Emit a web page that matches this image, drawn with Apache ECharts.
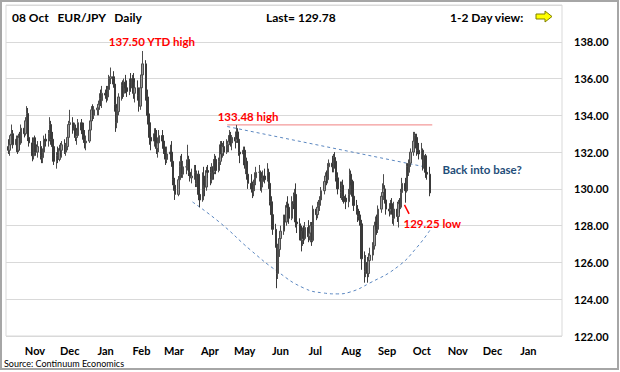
<!DOCTYPE html>
<html><head><meta charset="utf-8">
<script src="https://cdn.jsdelivr.net/npm/echarts@6/dist/echarts.min.js"></script>
<style>html,body{margin:0;padding:0;background:#fff}#c{width:620px;height:372px}</style>
</head><body><div id="c"></div>
<script>
// rows: [day, open, high, low, close]
const oct17 = [[9,132.3,132.7,131.9,132.1],[10,132.1,132.5,131.8,132.4],[11,132.4,133.0,132.2,132.9],[12,132.9,133.5,132.6,133.0],[13,133.0,133.2,132.2,132.4],[16,132.4,132.9,132.0,132.7],[17,132.7,132.9,131.9,132.1],[18,132.1,133.0,132.0,132.8],[19,132.8,133.1,132.1,132.5],[20,132.5,133.5,132.4,133.3],[23,133.3,133.7,132.8,133.0],[24,133.0,133.9,132.9,133.7],[25,133.7,134.5,133.4,134.1],[26,134.1,134.4,132.6,132.8],[27,132.8,133.3,132.3,132.5],[30,132.5,132.8,131.5,131.8],[31,131.8,132.8,131.6,132.5]];
const nov17 = [[1,132.5,132.9,132.0,132.4],[2,132.4,132.8,131.8,132.0],[3,132.0,132.6,131.7,132.3],[6,132.3,132.6,131.6,131.8],[7,131.8,132.3,131.4,131.7],[8,131.7,132.2,131.4,132.0],[9,132.0,132.9,131.8,132.7],[10,132.7,133.0,132.3,132.6],[13,132.6,133.2,132.3,133.0],[14,133.0,133.9,132.7,133.5],[15,133.5,133.7,132.4,132.7],[16,132.7,133.1,132.0,132.3],[17,132.3,132.6,131.3,131.5],[20,131.5,132.0,131.1,131.8],[21,131.8,132.3,131.4,131.6],[22,131.6,132.4,131.5,132.2],[23,132.2,132.5,131.8,132.1],[24,132.1,132.6,131.7,132.4],[27,132.4,132.7,131.9,132.0],[28,132.0,132.5,131.8,132.3],[29,132.3,133.0,132.1,132.8],[30,132.8,133.7,132.6,133.5]];
const dec17 = [[1,133.5,134.3,133.2,133.6],[4,133.6,133.9,133.0,133.2],[5,133.2,133.6,132.8,133.3],[6,133.3,133.5,132.6,132.8],[7,132.8,133.2,132.4,132.9],[8,132.9,133.8,132.8,133.6],[11,133.6,133.8,133.0,133.2],[12,133.2,133.5,132.7,133.0],[13,133.0,133.6,132.5,132.7],[14,132.7,133.2,132.2,132.5],[15,132.5,132.9,132.1,132.6],[18,132.6,133.4,132.5,133.2],[19,133.2,133.9,133.0,133.7],[20,133.7,134.5,133.5,134.3],[21,134.3,134.6,133.7,134.0],[22,134.0,134.5,133.8,134.3],[25,134.3,134.6,134.0,134.4],[26,134.4,134.8,134.0,134.6],[27,134.6,135.2,134.3,134.9],[28,134.9,135.4,134.5,134.8],[29,134.8,135.6,134.4,135.2]];
const jan18 = [[1,135.2,135.4,134.9,135.1],[2,135.1,135.6,134.7,135.0],[3,135.0,135.6,134.8,135.4],[4,135.4,136.2,135.2,136.0],[5,136.0,136.6,135.7,136.1],[8,136.1,136.4,135.5,135.7],[9,135.7,135.9,134.2,134.6],[10,134.6,134.9,133.1,133.6],[11,133.6,134.4,133.3,134.2],[12,134.2,135.2,134.0,135.0],[15,135.0,135.8,134.8,135.6],[16,135.6,135.9,134.9,135.2],[17,135.2,136.0,135.0,135.8],[18,135.8,136.2,135.2,135.5],[19,135.5,135.9,135.0,135.3],[22,135.3,136.0,135.1,135.8],[23,135.8,136.3,135.3,135.5],[24,135.5,136.2,135.2,136.0],[25,136.0,136.3,134.9,135.2],[26,135.2,135.8,134.7,135.5],[29,135.5,135.9,134.8,135.1],[30,135.1,135.4,134.2,134.5],[31,134.5,135.7,134.3,135.5]];
const feb18 = [[1,135.5,136.5,135.3,136.2],[2,136.2,137.5,136.0,136.8],[5,136.8,137.0,134.8,135.0],[6,135.0,135.4,133.5,134.0],[7,134.0,134.6,133.3,133.6],[8,133.6,134.1,132.4,132.8],[9,132.8,133.4,132.1,132.6],[12,132.6,133.3,132.3,133.0],[13,133.0,133.3,132.3,132.6],[14,132.6,133.2,131.9,132.2],[15,132.2,132.8,131.7,132.5],[16,132.5,133.2,132.0,132.9],[19,132.9,133.2,132.3,132.6],[20,132.6,132.9,131.9,132.2],[21,132.2,132.6,131.6,132.0],[22,132.0,132.3,131.3,131.6],[23,131.6,132.3,131.4,131.9],[26,131.9,132.4,131.5,132.0],[27,132.0,132.6,131.2,131.5],[28,131.5,131.8,130.2,130.5]];
const mar18 = [[1,130.5,130.9,129.9,130.2],[2,130.2,130.6,129.4,129.7],[5,129.7,130.7,129.6,130.5],[6,130.5,131.5,130.3,131.2],[7,131.2,131.8,130.9,131.5],[8,131.5,131.9,130.6,130.8],[9,130.8,131.5,130.6,131.2],[12,131.2,131.6,130.8,131.2],[13,131.2,132.4,131.0,131.6],[14,131.6,131.8,130.7,130.9],[15,130.9,131.3,130.4,130.6],[16,130.6,131.1,130.3,130.7],[19,130.7,131.3,130.5,130.9],[20,130.9,131.3,130.1,130.3],[21,130.3,131.0,130.1,130.8],[22,130.8,131.0,129.4,129.7],[23,129.7,130.0,129.0,129.4],[26,129.4,130.9,129.3,130.7],[27,130.7,131.2,130.2,130.4],[28,130.4,130.6,129.6,130.1],[29,130.1,131.2,129.9,131.0],[30,131.0,131.3,130.6,130.9]];
const apr18 = [[2,130.9,131.2,130.2,130.5],[3,130.5,131.4,130.3,131.2],[4,131.2,131.6,130.5,130.9],[5,130.9,131.9,130.8,131.6],[6,131.6,131.8,130.8,131.0],[9,131.0,131.7,130.9,131.5],[10,131.5,132.6,131.3,132.4],[11,132.4,132.6,131.6,131.9],[12,131.9,132.5,131.7,132.3],[13,132.3,132.6,131.8,132.0],[16,132.0,132.7,131.9,132.4],[17,132.4,132.9,132.0,132.6],[18,132.6,133.2,132.4,132.9],[19,132.9,133.1,132.3,132.5],[20,132.5,132.9,132.1,132.8],[23,132.8,133.1,132.2,132.6],[24,132.6,133.48,132.5,133.1],[25,133.1,133.3,132.5,132.7],[26,132.7,132.9,131.8,132.0],[27,132.0,132.4,131.4,131.9],[30,131.9,132.3,131.5,132.1]];
const may18 = [[1,132.1,132.3,131.1,131.3],[2,131.3,131.7,130.8,131.5],[3,131.5,131.7,130.5,130.8],[4,130.8,131.1,130.0,130.3],[7,130.3,130.8,129.8,130.0],[8,130.0,130.4,129.5,129.9],[9,129.9,130.5,129.6,130.3],[10,130.3,130.9,129.9,130.6],[11,130.6,131.2,130.2,130.9],[14,130.9,131.3,130.4,130.9],[15,130.9,131.0,129.9,130.1],[16,130.1,130.6,129.8,130.4],[17,130.4,131.0,130.1,130.7],[18,130.7,131.1,130.3,130.5],[21,130.5,131.4,130.4,130.9],[22,130.9,131.1,130.0,130.3],[23,130.3,130.5,129.1,129.3],[24,129.3,129.6,128.3,128.6],[25,128.6,129.0,127.5,127.8],[28,127.8,128.1,126.8,127.0],[29,127.0,127.2,124.6,125.4],[30,125.4,127.0,125.1,126.7],[31,126.7,127.6,126.3,127.3]];
const jun18 = [[1,127.3,128.0,126.9,127.7],[4,127.7,128.6,127.5,128.3],[5,128.3,128.6,127.8,128.2],[6,128.2,129.3,128.0,129.1],[7,129.1,129.6,128.6,129.0],[8,129.0,129.2,128.1,128.4],[11,128.4,129.6,128.3,129.3],[12,129.3,129.8,128.9,129.2],[13,129.2,130.0,128.8,129.7],[14,129.7,130.3,127.9,128.2],[15,128.2,128.7,127.6,128.1],[18,128.1,128.4,127.2,127.6],[19,127.6,128.0,126.6,127.2],[20,127.2,127.9,126.9,127.7],[21,127.7,128.0,127.0,127.3],[22,127.3,128.2,127.2,127.9],[25,127.9,128.3,127.1,127.4],[26,127.4,128.0,127.2,127.6],[27,127.6,128.2,127.1,128.0],[28,128.0,128.2,126.9,127.2],[29,127.2,129.1,127.1,128.9]];
const jul18 = [[2,128.9,129.0,128.3,128.6],[3,128.6,129.3,128.4,129.0],[4,129.0,129.4,128.7,129.1],[5,129.1,129.6,128.8,129.4],[6,129.4,130.1,129.2,129.9],[9,129.9,130.6,129.7,130.4],[10,130.4,130.9,130.0,130.7],[11,130.7,131.0,130.2,130.5],[12,130.5,131.4,130.3,131.2],[13,131.2,131.6,130.8,131.4],[16,131.4,131.8,130.9,131.2],[17,131.2,131.9,130.9,131.7],[18,131.7,132.0,131.1,131.5],[19,131.5,131.7,130.4,130.6],[20,130.6,130.9,129.7,130.0],[23,130.0,130.4,129.5,129.8],[24,129.8,130.4,129.4,130.2],[25,130.2,130.5,129.3,129.6],[26,129.6,130.0,129.2,129.5],[27,129.5,129.7,128.9,129.3],[30,129.3,130.0,129.0,129.7],[31,129.7,131.1,129.6,130.8]];
const aug18 = [[1,130.8,131.0,130.2,130.4],[2,130.4,130.5,129.4,129.6],[3,129.6,129.8,128.8,129.1],[6,129.1,129.4,128.6,128.9],[7,128.9,129.1,128.2,128.5],[8,128.5,128.8,128.0,128.3],[9,128.3,128.6,127.7,128.1],[10,128.1,128.3,125.6,126.2],[13,126.2,126.6,124.9,125.5],[14,125.5,126.4,125.2,126.0],[15,126.0,126.3,124.9,125.4],[16,125.4,126.5,125.2,126.1],[17,126.1,126.8,125.8,126.4],[20,126.4,127.1,126.1,126.9],[21,126.9,128.2,126.7,128.0],[22,128.0,128.5,127.6,128.2],[23,128.2,128.6,127.5,127.8],[24,127.8,129.1,127.6,128.9],[27,128.9,129.8,128.7,129.6],[28,129.6,130.3,129.1,129.8],[29,129.8,130.8,129.4,130.0],[30,130.0,130.2,129.2,129.4],[31,129.4,129.7,128.6,128.9]];
const sep18 = [[3,128.9,129.2,128.5,128.8],[4,128.8,129.4,128.6,129.2],[5,129.2,129.5,128.6,128.9],[6,128.9,129.1,128.1,128.4],[7,128.4,129.3,128.0,128.9],[10,128.9,129.3,128.2,128.5],[11,128.5,129.4,127.9,129.2],[12,129.2,129.5,128.7,129.0],[13,129.0,130.0,128.9,129.8],[14,129.8,130.6,129.5,130.3],[17,130.3,130.6,129.25,129.9],[18,129.9,131.4,129.8,131.2],[19,131.2,131.4,130.6,130.9],[20,130.9,131.6,130.7,131.4],[21,131.4,132.2,131.2,132.0],[24,132.0,133.1,131.8,132.6],[25,132.6,133.1,132.3,132.9],[26,132.9,133.0,132.2,132.8],[27,132.8,133.0,131.8,132.1],[28,132.1,132.5,131.6,131.9]];
const oct18 = [[1,131.9,132.5,131.6,132.1],[2,132.1,132.2,131.0,131.3],[3,131.3,132.0,131.1,131.8],[4,131.8,131.9,130.6,130.9],[5,130.9,131.2,130.5,130.8],[8,130.8,131.2,129.6,129.78]];

const monthBlocks = [[2017,9,oct17],[2017,10,nov17],[2017,11,dec17],[2018,0,jan18],[2018,1,feb18],[2018,2,mar18],[2018,3,apr18],[2018,4,may18],[2018,5,jun18],[2018,6,jul18],[2018,7,aug18],[2018,8,sep18],[2018,9,oct18]];

const xTickDates = ['2017-11-01','2017-12-01','2018-01-01','2018-02-01','2018-03-01','2018-04-01','2018-05-01','2018-06-01','2018-07-01','2018-08-01','2018-09-01','2018-10-01','2018-11-01','2018-12-01','2019-01-01'];
const xTickLabels = ['Nov','Dec','Jan','Feb','Mar','Apr','May','Jun','Jul','Aug','Sep','Oct','Nov','Dec','Jan'];
const yTickValues = [122,124,126,128,130,132,134,136,138];

// annotation lines
const resistance = [['2018-04-16',133.48],['2018-10-10',133.48]];
const trendline = [['2018-04-16',133.39],['2018-10-05',131.18]];
const baseCurve = [['2018-03-17',129.29],['2018-04-10',128.15],['2018-05-06',126.68],['2018-05-30',125.48],['2018-06-21',124.61],['2018-07-08',124.34],['2018-07-20',124.29],['2018-07-31',124.39],['2018-08-17',124.88],['2018-09-10',125.76],['2018-09-27',126.84],['2018-10-09',127.85]];
const lowPointer = [['2018-09-16',129.13],['2018-09-20',128.64]];
const notes = [
  {text:'137.50 YTD high', date:'2018-02-10', value:138.0, color:'#FF0000'},
  {text:'133.48 high', date:'2018-05-04', value:133.92, color:'#FF0000'},
  {text:'Back into base?', date:'2018-11-22', value:131.03, color:'#1F4E79'},
  {text:'129.25 low', date:'2018-10-10', value:128.1, color:'#FF0000'}
];

const toTs = s => { const p = s.split('-').map(Number); return Date.UTC(p[0], p[1]-1, p[2]); };
const bars = [];
monthBlocks.forEach(([y,m,rows]) => rows.forEach(r => bars.push([Date.UTC(y,m,r[0]), r[1], r[4], r[3], r[2]])));
const tickTs = xTickDates.map(toTs);
const FF = 'Lato, "Noto Sans", sans-serif';
const lineSeries = (data, color, type, width, smooth) => ({
  type:'line', data: data.map(d => [toTs(d[0]), d[1]]), symbol:'none', smooth: smooth || false, silent:true, z:1,
  lineStyle:{color, type, width}
});

const chart = echarts.init(document.getElementById('c'), null, {renderer:'svg'});
chart.setOption({
  animation:false,
  backgroundColor:'#fff',
  grid:{left:6, right:58, top:5, bottom:36, show:true, borderColor:'#d9d9d9', borderWidth:1},
  xAxis:{type:'value', min: toTs('2017-10-07'), max: toTs('2019-01-30'), scale:true,
    axisLine:{show:false}, axisTick:{show:false}, splitLine:{show:false},
    axisLabel:{customValues: tickTs, formatter: v => { const i = tickTs.indexOf(v); return i >= 0 ? xTickLabels[i] : ''; },
      fontFamily:FF, fontWeight:'bold', fontSize:11, color:'#000', margin:9, hideOverlap:false}},
  yAxis:{type:'value', position:'right', min:122, max:140, interval:2,
    axisLine:{show:false}, axisTick:{show:false},
    splitLine:{lineStyle:{color:'#d9d9d9', width:1}},
    axisLabel:{customValues: yTickValues, formatter: v => v.toFixed(2), fontFamily:FF, fontWeight:'bold', fontSize:11, color:'#000', margin:12}},
  series:[
    lineSeries(resistance, '#f08080', 'solid', 1),
    lineSeries(trendline, '#5b87c0', [3,3], 1),
    lineSeries(baseCurve, '#5b87c0', [3,3], 1, 0.5),
    lineSeries(lowPointer, '#ff0000', 'solid', 1.5),
    {type:'candlestick', data: bars, barWidth:2, z:3,
      itemStyle:{color:'#9a9a9a', borderColor:'#4d4d4d', color0:'#3a3a3a', borderColor0:'#3a3a3a', borderWidth:1}},
    {type:'scatter', symbolSize:0, silent:true, z:5, itemStyle:{opacity:1},
      data: notes.map(n => ({value:[toTs(n.date), n.value], label:{show:true, position:'inside', opacity:1, formatter:n.text, color:n.color, textBorderWidth:0, fontFamily:FF, fontWeight:'bold', fontSize:11.5}}))}
  ],
  graphic:[
    {type:'rect', shape:{x:1, y:1, width:617, height:368}, style:{fill:'none', stroke:'#a6a6a6', lineWidth:2}, silent:true},
    {type:'text', left:12, top:11, style:{text:'08 Oct   EUR/JPY   Daily', font:'bold 12px Lato', fill:'#000'}},
    {type:'text', left:266, top:11, style:{text:'Last= 129.78', font:'bold 12px Lato', fill:'#000'}},
    {type:'text', left:450, top:11, style:{text:'1-2 Day view:', font:'bold 12px Lato', fill:'#000'}},
    {type:'polygon', shape:{points:[[536,14],[545,14],[545,11],[552,16.5],[545,22],[545,19],[536,19]]}, style:{fill:'#ffff00', stroke:'#7f7f00', lineWidth:1}},
    {type:'text', left:4, top:359, style:{text:'Source: Continuum Economics', font:'9px Lato', fill:'#000'}}
  ]
});
</script></body></html>
